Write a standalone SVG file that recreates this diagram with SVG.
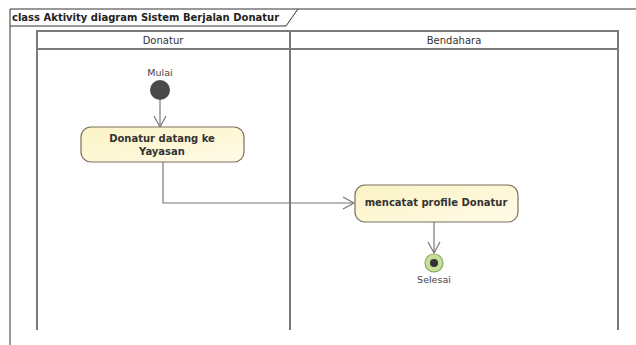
<svg xmlns="http://www.w3.org/2000/svg" width="636" height="345" viewBox="0 0 636 345">
<style>
.lane{fill:none;stroke:#7a7a7a;stroke-width:2}
.frame{fill:none;stroke:#333;stroke-width:1}
.hdr{font-family:"DejaVu Sans",sans-serif;font-size:10px;fill:#333;text-anchor:middle}
.act{fill:url(#actg);stroke:#7a7060;stroke-width:1.2}
.atxt{font-family:"DejaVu Sans",sans-serif;font-size:10px;font-weight:bold;fill:#333;text-anchor:middle}
.lbl{font-family:"DejaVu Sans",sans-serif;font-size:9.5px;fill:#444;text-anchor:middle}
.conn{fill:none;stroke:#777;stroke-width:1.2}
</style>
<defs>
<linearGradient id="actg" x1="0" y1="0" x2="1" y2="1">
<stop offset="0" stop-color="#fbf3c4"/>
<stop offset="1" stop-color="#fffbe8"/>
</linearGradient>
<marker id="open" markerWidth="14" markerHeight="14" refX="12" refY="7" orient="auto" markerUnits="userSpaceOnUse">
<path d="M1,1 L12,7 L1,13" fill="none" stroke="#777" stroke-width="1.2"/>
</marker>
</defs>
<rect width="636" height="345" fill="#fff"/>
<g id="frame">
<path class="frame" d="M10,345 V9 H636"/>
<path class="frame" d="M10,26 H286 L298,9"/>
<text x="12" y="21" font-family="DejaVu Sans,sans-serif" font-size="10" font-weight="bold" fill="#222">class Aktivity diagram Sistem Berjalan Donatur</text>
</g>
<g id="lanes">
<rect class="lane" x="37" y="31" width="581" height="18" fill="none"/>
<path class="lane" d="M37,49 V330 M290,31 V330 M618,49 V330"/>
<text class="hdr" x="163" y="44">Donatur</text>
<text class="hdr" x="454" y="44">Bendahara</text>
</g>
<g id="connectors">
<path class="conn" d="M160,100 V127" marker-end="url(#open)"/>
<path class="conn" d="M163,162 V203 H354" marker-end="url(#open)"/>
<path class="conn" d="M434,222 V253" marker-end="url(#open)"/>
</g>
<g id="mulai">
<circle cx="160" cy="90" r="10" fill="#4a4a4a"/>
<text class="lbl" x="160" y="76">Mulai</text>
</g>
<g id="act1">
<rect class="act" x="81" y="127" width="163" height="35" rx="10"/>
<text class="atxt" x="162" y="142">Donatur datang ke</text>
<text class="atxt" x="162" y="155">Yayasan</text>
</g>
<g id="act2">
<rect class="act" x="355" y="185" width="163" height="37" rx="10"/>
<text class="atxt" x="436" y="206">mencatat profile Donatur</text>
</g>
<g id="selesai">
<circle cx="434" cy="263" r="9" fill="#c6df9a" stroke="#8aa860" stroke-width="1.2"/>
<circle cx="434" cy="263" r="4" fill="#333"/>
<text class="lbl" x="434" y="283">Selesai</text>
</g>
</svg>
